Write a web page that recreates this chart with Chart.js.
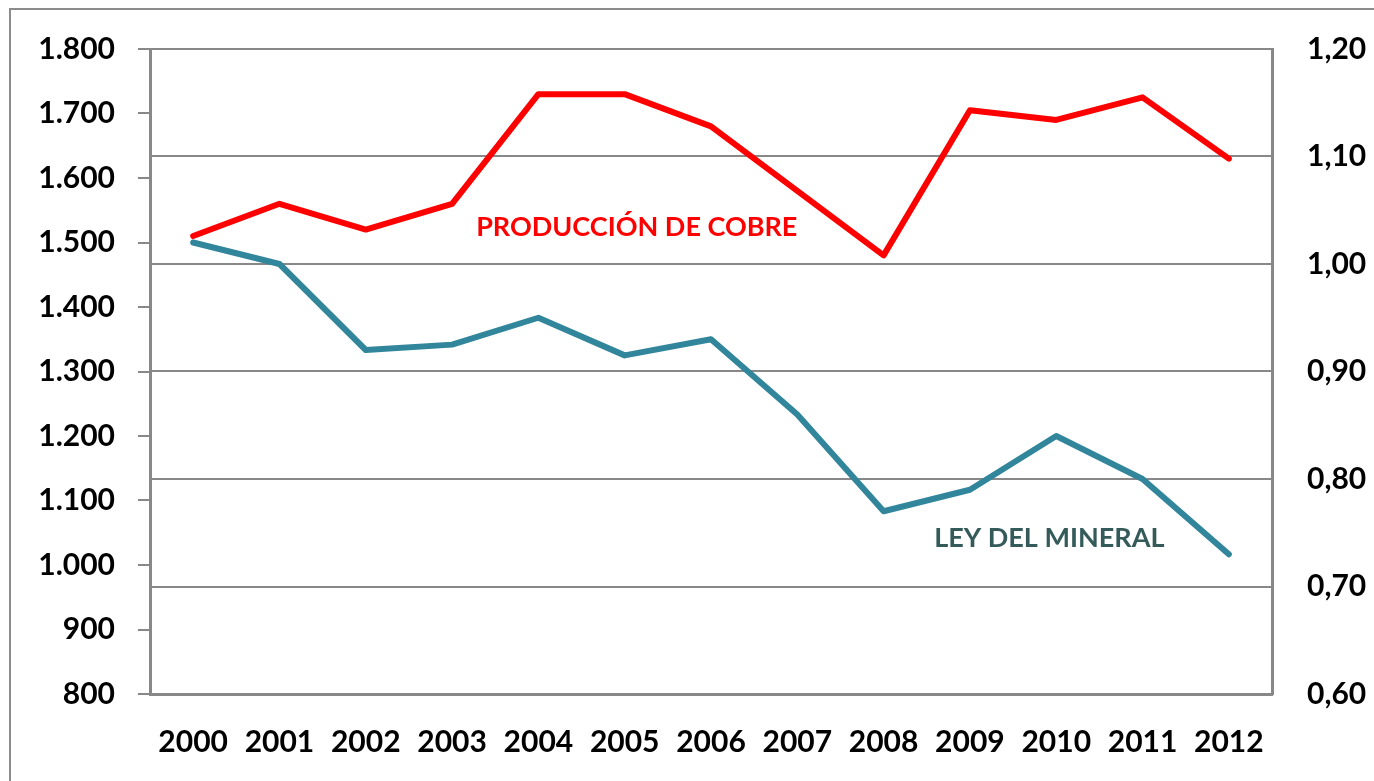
<!DOCTYPE html>
<html>
<head>
<meta charset="utf-8">
<script src="https://cdn.jsdelivr.net/npm/chart.js@4"></script>
<style>
  html, body { margin: 0; padding: 0; background: #fff; overflow: hidden; }
  #frame {
    position: absolute; left: 9px; top: 8px; width: 2000px; height: 2000px;
    border: 2px solid #8c8c8c; pointer-events: none;
  }
  canvas { position: absolute; left: 0; top: 0; }
</style>
</head>
<body>
<div id="frame"></div>
<canvas id="chart" width="1374" height="781"></canvas>
<script>
var years = ['2000', '2001', '2002', '2003', '2004', '2005', '2006', '2007', '2008', '2009', '2010', '2011', '2012'];
var produccion = [1510, 1560, 1520, 1560, 1730, 1730, 1680, 1580, 1480, 1705, 1690, 1725, 1630];
var leyMineral = [1.02, 1.00, 0.92, 0.925, 0.95, 0.915, 0.93, 0.86, 0.77, 0.79, 0.84, 0.80, 0.73];
var leftTicks = [800, 900, 1000, 1100, 1200, 1300, 1400, 1500, 1600, 1700, 1800];
var rightTicks = [0.60, 0.70, 0.80, 0.90, 1.00, 1.10, 1.20];

// series labels: [text, category index (fractional), value on left axis, colour]
var seriesLabels = [
  ['PRODUCCIÓN DE COBRE', 5.14, 1524, '#ff0000'],
  ['LEY DEL MINERAL', 9.92, 1042, '#355a5a']
];

var gray = '#888888';
var tickFont = { family: 'Lato', size: 30, weight: 'bold' };

var labelPlugin = {
  id: 'seriesLabels',
  afterDatasetsDraw: function (chart) {
    var ctx = chart.ctx;
    var xs = chart.scales.x, ys = chart.scales.y;
    ctx.save();
    ctx.font = 'bold 27px Lato';
    ctx.textAlign = 'center';
    ctx.textBaseline = 'middle';
    seriesLabels.forEach(function (l) {
      var i = Math.floor(l[1]);
      var x0 = xs.getPixelForValue(i);
      var x1 = xs.getPixelForValue(i + 1);
      ctx.fillStyle = l[3];
      ctx.fillText(l[0], x0 + (x1 - x0) * (l[1] - i), ys.getPixelForValue(l[2]));
    });
    ctx.restore();
  }
};

new Chart(document.getElementById('chart'), {
  type: 'line',
  data: {
    labels: years,
    datasets: [{
      label: 'Producción de cobre',
      data: produccion,
      yAxisID: 'y',
      borderColor: '#ff0000',
      borderWidth: 6,
      pointRadius: 0,
      tension: 0,
      borderJoinStyle: 'round',
      borderCapStyle: 'round'
    }, {
      label: 'Ley del mineral',
      data: leyMineral,
      yAxisID: 'y1',
      borderColor: '#31869b',
      borderWidth: 6,
      pointRadius: 0,
      tension: 0,
      borderJoinStyle: 'round',
      borderCapStyle: 'round'
    }]
  },
  options: {
    responsive: false,
    animation: false,
    layout: { padding: { top: 49, left: 0, right: 0, bottom: 0 } },
    plugins: { legend: { display: false }, tooltip: { enabled: false } },
    scales: {
      x: {
        offset: true,
        grid: { display: false },
        border: { display: true, color: gray, width: 3 },
        ticks: { color: '#000', font: tickFont, padding: 22, maxRotation: 0 },
        afterFit: function (s) { s.height = 87; }
      },
      y: {
        position: 'left',
        min: 800, max: 1800,
        afterBuildTicks: function (s) { s.ticks = leftTicks.map(function (v) { return { value: v }; }); },
        grid: { drawOnChartArea: false, drawTicks: true, tickLength: 12, color: gray, lineWidth: 2 },
        border: { display: true, color: gray, width: 3 },
        ticks: {
          color: '#000', font: tickFont, padding: 23,
          callback: function (v) { return v.toString().replace(/\B(?=(\d{3})+(?!\d))/g, '.'); }
        },
        afterFit: function (s) { s.width = 150; s.paddingTop = 0; s.paddingBottom = 0; }
      },
      y1: {
        position: 'right',
        min: 0.6, max: 1.2,
        afterBuildTicks: function (s) { s.ticks = rightTicks.map(function (v) { return { value: v }; }); },
        grid: { drawOnChartArea: true, drawTicks: false, color: gray, lineWidth: 2 },
        border: { display: true, color: gray, width: 3 },
        ticks: {
          color: '#000', font: tickFont, padding: 35,
          callback: function (v) { return v.toFixed(2).replace('.', ','); }
        },
        afterFit: function (s) { s.width = 102; s.paddingTop = 0; s.paddingBottom = 0; }
      }
    }
  },
  plugins: [labelPlugin]
});
</script>
</body>
</html>
